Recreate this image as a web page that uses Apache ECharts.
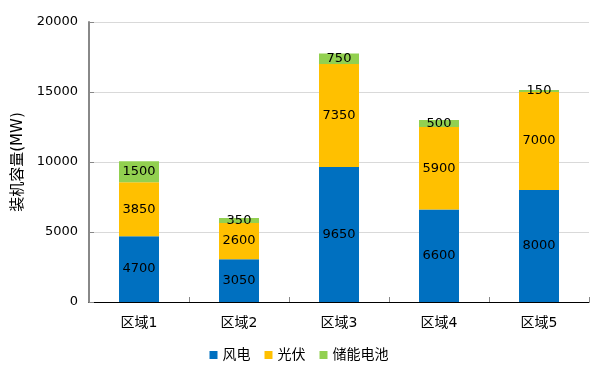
<!DOCTYPE html>
<html><head><meta charset="utf-8">
<script src="https://cdn.jsdelivr.net/npm/echarts@6/dist/echarts.min.js"></script>
<style>html,body{margin:0;padding:0;background:#fff}#c{width:598px;height:372px}</style>
</head><body><div id="c"></div>
<script>
const categories = ['区域1','区域2','区域3','区域4','区域5'];
const wind = [4700,3050,9650,6600,8000];
const solar = [3850,2600,7350,5900,7000];
const storage = [1500,350,750,500,150];
const yTicks = [0,5000,10000,15000,20000];
const font = '"DejaVu Sans","Noto Sans CJK SC",sans-serif';
const chart = echarts.init(document.getElementById('c'));
const lbl = {show:true, position:'inside', color:'#000', fontSize:13, fontFamily:font};
chart.setOption({
  animation:false,
  grid:{left:89, right:9, top:22, bottom:70},
  legend:{bottom:5, left:'center', itemWidth:8, itemHeight:8, itemGap:14, icon:'rect',
    textStyle:{fontSize:14, color:'#000', fontFamily:font}},
  xAxis:{type:'category', data:categories,
    axisLine:{lineStyle:{color:'#000', width:1}},
    axisTick:{show:true, inside:true, length:5, lineStyle:{color:'#888'}},
    axisLabel:{color:'#000', fontSize:14, margin:14, fontFamily:font}},
  yAxis:{type:'value', min:0, max:20000, interval:5000,
    name:'装机容量(MW)', nameLocation:'middle', nameGap:63, nameRotate:90,
    nameTextStyle:{fontSize:15, color:'#000', fontFamily:font},
    axisLine:{show:true, lineStyle:{color:'#888', width:2}},
    axisTick:{show:true, inside:true, length:5, lineStyle:{color:'#888'}},
    splitLine:{lineStyle:{color:'#d9d9d9'}},
    axisLabel:{color:'#000', fontSize:13, margin:11, fontFamily:font,
      formatter:v=>yTicks.includes(v)?String(v):''}},
  series:[
    {name:'风电', type:'bar', stack:'a', data:wind, barWidth:40, itemStyle:{color:'#0070C0'}, label:lbl},
    {name:'光伏', type:'bar', stack:'a', data:solar, barWidth:40, itemStyle:{color:'#FFC000'}, label:lbl},
    {name:'储能电池', type:'bar', stack:'a', data:storage, barWidth:40, itemStyle:{color:'#92D050'}, label:lbl}
  ]
});
</script></body></html>
